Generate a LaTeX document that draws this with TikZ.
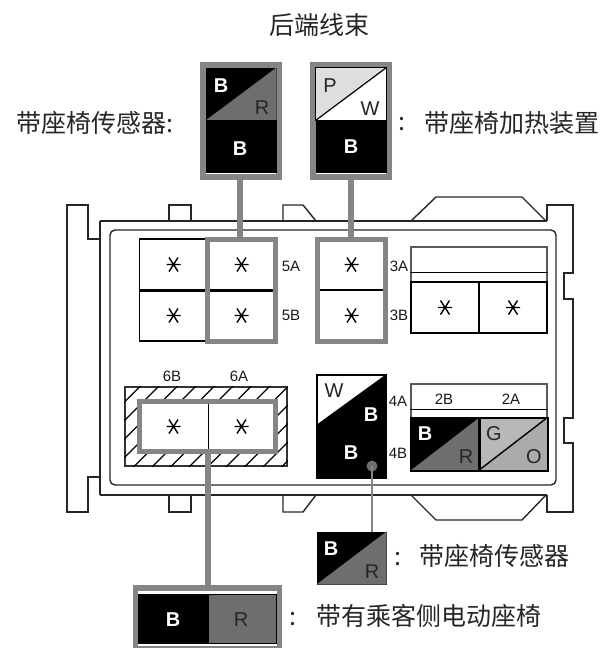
\documentclass[tikz,border=0pt]{standalone}
\usepackage{fontspec}
\setmainfont{Liberation Sans}
\newfontfamily\cjk{Noto Sans CJK SC}
\begin{document}
\begin{tikzpicture}[x=1pt,y=-1pt,inner sep=0pt,
                hull/.style={draw=black!85,line width=1.4pt,line join=miter},
                cell/.style 2 args={draw=black,line width=1.5pt,fill=white,minimum width=#1,minimum height=#2},
                field/.style 2 args={draw=black,line width=1pt,minimum width=#1,minimum height=#2},
                frame/.style 2 args={draw=wiregray,line width=5.5pt,minimum width=#1,minimum height=#2},
                feed/.style={draw=wiregray,line width=6pt},
                wirew/.style={text=white,font=\bfseries\fontsize{20}{24}\selectfont},
                wired/.style={text=black!85,font=\fontsize{20}{24}\selectfont},
                pin/.style={text=black!90,font=\fontsize{15}{18}\selectfont},
                zh/.style={text=black!85,font=\cjk\fontsize{25}{30}\selectfont},
                starmark/.pic={\draw[line width=1.4pt] (-7,0) -- (7,0) (-4.5,-7) -- (4.5,7) (-4.5,7) -- (4.5,-7);}]
  \definecolor{wiregray}{gray}{0.52}
  \definecolor{redgray}{gray}{0.43}
  \useasboundingbox (0,0) rectangle (606,648);
  % housing
  \draw[hull,rounded corners=5pt] (110,230) rectangle (556,485);
  \draw[hull] (100,221) -- (100,495) (100,221) -- (547,221) (100,495) -- (547,495);
  \draw[hull] (100,239) -- (88,239) -- (88,205) -- (67,205) -- (67,512) -- (88,512) -- (88,477) -- (100,477);
  \draw[hull] (547,221) -- (547,205) -- (573,205) -- (573,273) -- (564,273) -- (564,299) -- (573,299) -- (573,418)
              -- (564,418) -- (564,443) -- (573,443) -- (573,512) -- (547,512) -- (547,495);
  \draw[hull] (169,221) -- (169,205) -- (191,205) -- (191,221);
  \draw[hull] (169,495) -- (169,512) -- (191,512) -- (191,495);
  \draw[hull] (283,221) -- (283,205) -- (303,205) -- (316,221);
  \draw[hull] (283,495) -- (283,512) -- (303,512) -- (316,495);
  \draw[hull] (411,221) -- (436,197) -- (522,197) -- (546,221);
  \draw[hull] (411,495) -- (436,520) -- (522,520) -- (546,495);
  % hatched socket
  \node[cell={162pt}{79pt},draw=black!80] (hatch) at (206,426.5) {};
  \begin{scope}
    \clip (hatch.north west) rectangle (hatch.south east);
    \foreach \i in {0,...,15}
      \draw[line width=1.2pt] (508+18.5*\i-380,380) -- (508+18.5*\i-470,470);
  \end{scope}
  % cells
  \node[cell={68pt}{51pt}] (cell5c) at (173.5,264.5) {};
  \node[cell={68pt}{51pt}] (cell5d) at (173.5,315.5) {};
  \node[cell={68pt}{51pt}] (cell5a) at (241.5,264.5) {};
  \node[cell={68pt}{51pt}] (cell5b) at (241.5,315.5) {};
  \draw[line width=2.5pt] (cell5c.south west) -- (cell5a.south east);
  \node[cell={68pt}{51pt}] (cell3a) at (351.5,264.5) {};
  \node[cell={68pt}{51pt}] (cell3b) at (351.5,315.5) {};
  \node[cell={136pt}{35pt},draw=black!65] (strip3) at (479,264.5) {};
  \draw[line width=1.5pt] ([yshift=-26pt]strip3.north west) -- ([yshift=-26pt]strip3.north east);
  \node[cell={68pt}{51pt}] (cell3c) at (445,307.5) {};
  \node[cell={68pt}{51pt}] (cell3d) at (513,307.5) {};
  \node[cell={68pt}{50pt},draw=none] (cell6b) at (173.5,426.5) {};
  \node[cell={68pt}{50pt},draw=none] (cell6a) at (241.5,426.5) {};
  \draw[line width=1.4pt] (cell6b.north east) -- (cell6b.south east);
  % wire frames in the housing
  \node[frame={68pt}{102pt}] (frame5) at (241.5,290.5) {};
  \node[frame={68pt}{102pt}] (frame3) at (351.5,290.5) {};
  \node[frame={136pt}{50pt}] (frame6) at (207.5,426.5) {};
  \foreach \p in {cell5a,cell5b,cell5c,cell5d,cell3a,cell3b,cell3c,cell3d,cell6a,cell6b}
    \pic at (\p) {starmark};
  % upper connectors
  \node[frame={76pt}{112pt},fill=white] (sensor) at (241,121) {};
  \node[field={70pt}{52pt},fill=black] (sensorup) at (241,94) {};
  \fill[redgray] (sensorup.south west) -- (sensorup.north east) -- (sensorup.south east) -- cycle;
  \node[field={70pt}{52pt},fill=black] (sensorlow) at (241,146) {};
  \node[frame={76pt}{112pt},fill=white] (heater) at (351,121) {};
  \node[field={70pt}{52pt},fill=white] (heaterup) at (351,94) {};
  \fill[black!13] (heaterup.south west) -- (heaterup.north east) -- (heaterup.north west) -- cycle;
  \draw[line width=1.2pt] (heaterup.south west) -- (heaterup.north east);
  \draw[line width=1pt] (heaterup.north west) rectangle (heaterup.south east);
  \node[field={70pt}{52pt},fill=black] (heaterlow) at (351,146) {};
  \draw[feed] ([xshift=-1.5pt]sensor.south) -- ([xshift=-1.5pt]sensor.south |- frame5.north);
  \draw[feed] (heater.south) -- (heater.south |- frame3.north);
  % row 4 and 2
  \node[field={69pt}{103pt},fill=black,line width=1.4pt] (pin4) at (351.5,426.5) {};
  \node[field={69pt}{48pt},draw=none] (pin4up) at (351.5,399) {};
  \fill[white] ([xshift=1.5pt]pin4up.south west) -- ([xshift=-3pt,yshift=-1.5pt]pin4up.north east) -- ([xshift=1.5pt,yshift=-1.5pt]pin4up.north west) -- cycle;
  \node[cell={136pt}{34pt},draw=black!65] (strip2) at (479,401) {};
  \draw[line width=1.5pt] ([yshift=-26pt]strip2.north west) -- ([yshift=-26pt]strip2.north east);
  \node[cell={68pt}{52pt},fill=black] (cell2b) at (445,444) {};
  \fill[redgray] (cell2b.south west) -- (cell2b.north east) -- (cell2b.south east) -- cycle;
  \node[cell={68pt}{52pt},fill=black!28] (cell2a) at (513,444) {};
  \fill[black!33] (cell2a.south west) -- (cell2a.north east) -- (cell2a.south east) -- cycle;
  \draw[line width=1.4pt] (cell2a.south west) -- (cell2a.north east);
  \draw[line width=1.5pt] (cell2b.south west) rectangle (cell2a.north east);
  \draw[line width=1.5pt] (cell2b.north east) -- (cell2b.south east);
  % lower connectors
  \node[field={69pt}{52pt},fill=black] (legend) at (351.5,558) {};
  \fill[redgray] (legend.south west) -- (legend.north east) -- (legend.south east) -- cycle;
  \node[circle,fill=redgray,minimum size=11pt] (dot) at (372,466) {};
  \draw[draw=wiregray,line width=2pt] (dot.center) -- (dot.center |- legend.north);
  \node[frame={144pt}{61pt},fill=white] (seat) at (207.5,618.5) {};
  \node[field={70pt}{49pt},fill=black] (seatb) at (173,618.5) {};
  \node[field={68pt}{49pt},fill=redgray] (seatr) at (242,618.5) {};
  \draw[feed] (frame6.south) -- (seat.north);
  % wire colours
  \node[wirew] (tb1) at (221,86) {B};
  \node[wired] (tr1) at (262,108) {R};
  \node[wirew] (tb2) at (240,149) {B};
  \node[wired] (tp1) at (330,86) {P};
  \node[wired] (tw1) at (370,109) {W};
  \node[wirew] (tb3) at (351,147) {B};
  \node[wired] (tw2) at (334,391) {W};
  \node[wirew] (tb4) at (371,415) {B};
  \node[wirew] (tb5) at (351,453) {B};
  \node[wirew] (tb6) at (425,434) {B};
  \node[wired] (tr2) at (466,457) {R};
  \node[wired] (tg1) at (494,434) {G};
  \node[wired] (to1) at (534,457) {O};
  \node[wirew] (tb7) at (331,549) {B};
  \node[wired] (tr3) at (372,572) {R};
  \node[wirew] (tb8) at (173,620) {B};
  \node[wired] (tr4) at (241,620) {R};
  % pin labels
  \node[pin] (p5a) at (291,266) {5A};
  \node[pin] (p5b) at (291,315) {5B};
  \node[pin] (p3a) at (399,266) {3A};
  \node[pin] (p3b) at (399,315) {3B};
  \node[pin] (p4a) at (398,401) {4A};
  \node[pin] (p4b) at (398,453) {4B};
  \node[pin] (p6b) at (172,376) {6B};
  \node[pin] (p6a) at (239,376) {6A};
  \node[pin] (p2b) at (444,399) {2B};
  \node[pin] (p2a) at (511,399) {2A};
  % captions
  \node[zh] (title) at (319.5,25) {后端线束};
  \node[zh,anchor=west] (capsensor) at (16,123) {带座椅传感器:};
  \node[zh] (colheat) at (402,124) {:};
  \node[zh,anchor=west] (capheat) at (424,123) {带座椅加热装置};
  \node[zh] (colleg) at (398,559) {:};
  \node[zh,anchor=west] (capleg) at (419,556) {带座椅传感器};
  \node[zh] (colseat) at (293,619) {:};
  \node[zh,anchor=west] (capseat) at (316,616) {带有乘客侧电动座椅};
\end{tikzpicture}
\end{document}
